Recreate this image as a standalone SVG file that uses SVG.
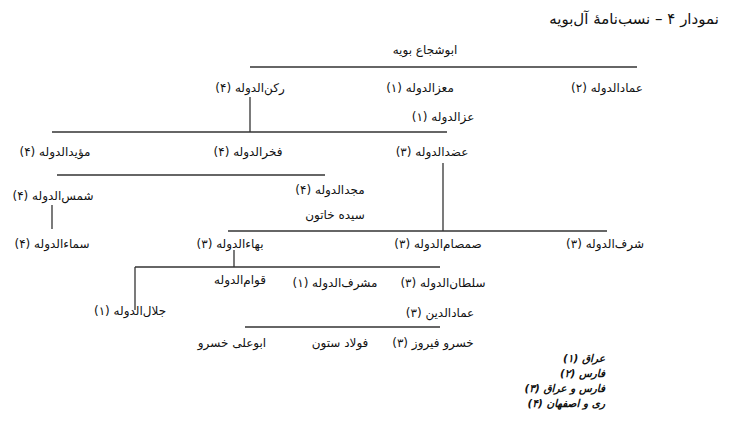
<svg xmlns="http://www.w3.org/2000/svg" width="733" height="422" viewBox="0 0 733 422">
<style>
text { font-family: "DejaVu Sans", "Noto Sans", sans-serif; font-size: 12px; fill: #111; direction: rtl; text-anchor: middle; }
.title { font-size: 15px; }
.legend { font-size: 10.5px; font-weight: bold; font-style: italic; text-anchor: start; }
.conn line { stroke: #333; stroke-width: 1.3; }
</style>
<rect width="733" height="422" fill="#fff"/>
<text class="title" x="634" y="24">نمودار ۴ – نسب‌نامهٔ آل‌بویه</text>
<g class="conn">
<line x1="250" y1="67" x2="637" y2="67"/>
<line x1="250" y1="97" x2="250" y2="132"/>
<line x1="52" y1="132" x2="447" y2="132"/>
<line x1="57" y1="175" x2="325" y2="175"/>
<line x1="443" y1="163" x2="443" y2="231"/>
<line x1="52" y1="205" x2="52" y2="229"/>
<line x1="228" y1="231" x2="607" y2="231"/>
<line x1="234" y1="250" x2="234" y2="267"/>
<line x1="135" y1="267" x2="440" y2="267"/>
<line x1="135" y1="267" x2="135" y2="310"/>
<line x1="245" y1="327" x2="440" y2="327"/>
</g>
<g id="n-abushoja"><text x="425" y="54">ابوشجاع بویه</text></g>
<g id="n-emad"><text x="607" y="92">عمادالدوله (۲)</text></g>
<g id="n-moez"><text x="420" y="92">معزالدوله (۱)</text></g>
<g id="n-rokn"><text x="250" y="92">رکن‌الدوله (۴)</text></g>
<g id="n-ezz"><text x="443" y="121">عزالدوله (۱)</text></g>
<g id="n-moayyed"><text x="55" y="156">مؤیدالدوله (۴)</text></g>
<g id="n-fakhr"><text x="248" y="156">فخرالدوله (۴)</text></g>
<g id="n-azod"><text x="432" y="156">عضدالدوله (۳)</text></g>
<g id="n-shams"><text x="53" y="200">شمس‌الدوله (۴)</text></g>
<g id="n-majd"><text x="330" y="194">مجدالدوله (۴)</text></g>
<g id="n-seyyede"><text x="335" y="219">سیده خاتون</text></g>
<g id="n-sama"><text x="52" y="248">سماءالدوله (۴)</text></g>
<g id="n-baha"><text x="230" y="248">بهاءالدوله (۳)</text></g>
<g id="n-samsam"><text x="438" y="248">صمصام‌الدوله (۳)</text></g>
<g id="n-sharaf"><text x="605" y="248">شرف‌الدوله (۳)</text></g>
<g id="n-qavam"><text x="240" y="284">قوام‌الدوله</text></g>
<g id="n-moshref"><text x="335" y="287">مشرف‌الدوله (۱)</text></g>
<g id="n-soltan"><text x="443" y="287">سلطان‌الدوله (۳)</text></g>
<g id="n-jalal"><text x="130" y="315">جلال‌الدوله (۱)</text></g>
<g id="n-emaddin"><text x="440" y="317">عمادالدین (۳)</text></g>
<g id="n-abuali"><text x="232" y="347">ابوعلی خسرو</text></g>
<g id="n-pulad"><text x="340" y="347">فولاد ستون</text></g>
<g id="n-khosrow"><text x="433" y="347">خسرو فیروز (۳)</text></g>
<g id="legend">
<text class="legend" x="605" y="362">عراق (۱)</text>
<text class="legend" x="605" y="377">فارس (۲)</text>
<text class="legend" x="605" y="392">فارس و عراق (۳)</text>
<text class="legend" x="605" y="407">ری و اصفهان (۴)</text>
</g>
</svg>
